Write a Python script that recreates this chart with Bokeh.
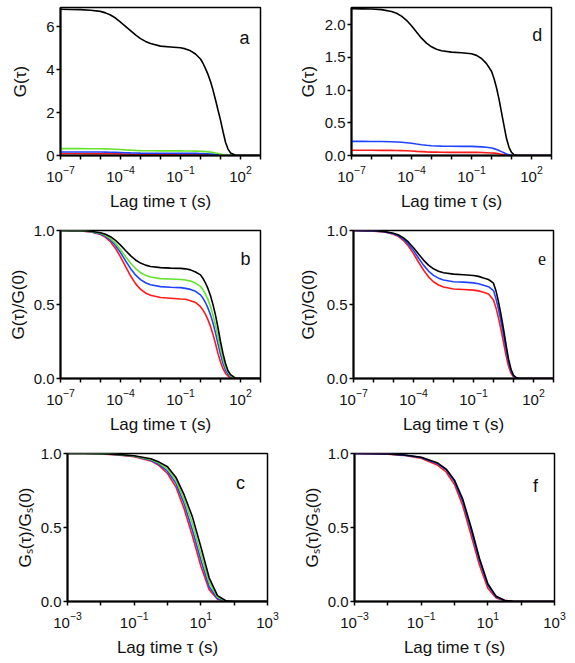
from bokeh.plotting import figure
from bokeh.layouts import column, row
from bokeh.models import FixedTicker, LogTickFormatter, NumeralTickFormatter, Label, Range1d
from bokeh.embed import file_html
from bokeh.resources import INLINE

# ---------------- data ----------------
# lag time grid, as exponents of 10 (s)
LOG_TAU = [-7, -6.5, -6, -5.5, -5, -4.75, -4.5, -4.25, -4, -3.75, -3.5, -3.25, -3, -2.75,
           -2.5, -2, -1.5, -1, -0.75, -0.5, -0.25, 0, 0.125, 0.25, 0.375, 0.5, 0.625,
           0.75, 0.875, 1, 1.125, 1.25, 1.375, 1.5, 1.75, 2, 2.5, 3]

a_black = [6.82, 6.81, 6.80, 6.77, 6.72, 6.65, 6.55, 6.41, 6.22, 6.02, 5.82, 5.62, 5.45, 5.32,
           5.22, 5.10, 5.06, 5.02, 4.97, 4.88, 4.73, 4.50, 4.30, 4.05, 3.78, 3.45, 3.05,
           2.60, 2.12, 1.65, 1.12, 0.62, 0.30, 0.12, 0.01, 0, 0, 0]
a_green = [0.320, 0.320, 0.319, 0.318, 0.314, 0.309, 0.302, 0.292, 0.279, 0.264, 0.250, 0.238, 0.229, 0.223,
           0.220, 0.216, 0.215, 0.214, 0.213, 0.211, 0.206, 0.199, 0.192, 0.182, 0.171, 0.156, 0.137,
           0.115, 0.090, 0.064, 0.042, 0.025, 0.014, 0.006, 0.001, 0, 0, 0]
a_blue = [0.165, 0.165, 0.165, 0.164, 0.161, 0.159, 0.154, 0.148, 0.140, 0.131, 0.123, 0.116, 0.110, 0.107,
          0.104, 0.102, 0.102, 0.101, 0.100, 0.099, 0.097, 0.093, 0.089, 0.084, 0.078, 0.071, 0.062,
          0.051, 0.039, 0.027, 0.017, 0.009, 0.005, 0.002, 0, 0, 0, 0]
a_red = [0.090, 0.090, 0.090, 0.089, 0.088, 0.086, 0.083, 0.079, 0.074, 0.068, 0.062, 0.058, 0.054, 0.052,
         0.051, 0.049, 0.049, 0.048, 0.048, 0.047, 0.046, 0.044, 0.042, 0.039, 0.036, 0.032, 0.027,
         0.021, 0.015, 0.010, 0.006, 0.003, 0.002, 0.001, 0, 0, 0, 0]

b_black = [1.000, 0.999, 0.998, 0.995, 0.985, 0.974, 0.958, 0.933, 0.901, 0.865, 0.830, 0.801, 0.780, 0.766,
           0.757, 0.749, 0.746, 0.744, 0.741, 0.734, 0.720, 0.700, 0.676, 0.645, 0.607, 0.559, 0.499,
           0.428, 0.343, 0.250, 0.168, 0.101, 0.052, 0.026, 0.003, 0, 0, 0]
b_green = [1.000, 0.999, 0.998, 0.993, 0.981, 0.967, 0.945, 0.914, 0.872, 0.825, 0.780, 0.743, 0.715, 0.697,
           0.686, 0.675, 0.672, 0.669, 0.665, 0.658, 0.645, 0.622, 0.599, 0.570, 0.533, 0.486, 0.427,
           0.360, 0.281, 0.201, 0.131, 0.077, 0.044, 0.019, 0.002, 0, 0, 0]
b_blue = [1.000, 0.999, 0.998, 0.992, 0.977, 0.961, 0.936, 0.899, 0.851, 0.796, 0.744, 0.700, 0.668, 0.647,
          0.633, 0.621, 0.617, 0.614, 0.609, 0.602, 0.589, 0.565, 0.542, 0.512, 0.475, 0.430, 0.375,
          0.308, 0.234, 0.163, 0.103, 0.057, 0.030, 0.014, 0.002, 0, 0, 0]
b_red = [1.000, 0.999, 0.997, 0.991, 0.973, 0.954, 0.924, 0.879, 0.822, 0.757, 0.694, 0.641, 0.603, 0.578,
         0.562, 0.547, 0.542, 0.537, 0.535, 0.526, 0.514, 0.485, 0.462, 0.433, 0.396, 0.352, 0.298,
         0.235, 0.169, 0.112, 0.066, 0.034, 0.017, 0.007, 0.001, 0, 0, 0]

d_black = [2.240, 2.239, 2.236, 2.227, 2.200, 2.172, 2.128, 2.064, 1.980, 1.885, 1.792, 1.716, 1.660, 1.623,
           1.600, 1.578, 1.568, 1.553, 1.529, 1.482, 1.403, 1.286, 1.176, 1.035, 0.862, 0.659, 0.455,
           0.259, 0.125, 0.047, 0.013, 0.002, 0, 0, 0, 0, 0, 0]
d_blue = [0.215, 0.215, 0.214, 0.213, 0.210, 0.207, 0.202, 0.195, 0.186, 0.175, 0.165, 0.156, 0.150, 0.146,
          0.143, 0.141, 0.140, 0.139, 0.136, 0.132, 0.125, 0.115, 0.105, 0.092, 0.077, 0.059, 0.041,
          0.023, 0.011, 0.004, 0.001, 0, 0, 0, 0, 0, 0, 0]
d_red = [0.080, 0.080, 0.080, 0.079, 0.078, 0.077, 0.075, 0.072, 0.068, 0.063, 0.059, 0.055, 0.052, 0.051,
         0.049, 0.048, 0.048, 0.048, 0.047, 0.045, 0.043, 0.039, 0.036, 0.032, 0.026, 0.020, 0.014,
         0.008, 0.004, 0.001, 0, 0, 0, 0, 0, 0, 0, 0]

e_black = [1.000, 0.999, 0.998, 0.994, 0.982, 0.970, 0.950, 0.921, 0.884, 0.841, 0.800, 0.766, 0.741, 0.725,
           0.714, 0.705, 0.701, 0.696, 0.690, 0.679, 0.669, 0.644, 0.592, 0.518, 0.431, 0.336, 0.231,
           0.133, 0.063, 0.021, 0.007, 0.001, 0, 0, 0, 0, 0, 0]
e_blue = [1.000, 0.998, 0.997, 0.992, 0.978, 0.964, 0.941, 0.907, 0.864, 0.814, 0.766, 0.726, 0.697, 0.678,
          0.666, 0.654, 0.651, 0.646, 0.640, 0.630, 0.620, 0.594, 0.538, 0.468, 0.386, 0.296, 0.200,
          0.113, 0.052, 0.017, 0.005, 0.001, 0, 0, 0, 0, 0, 0]
e_red = [1.000, 0.998, 0.996, 0.991, 0.975, 0.959, 0.932, 0.894, 0.844, 0.787, 0.733, 0.687, 0.654, 0.632,
         0.618, 0.605, 0.601, 0.597, 0.592, 0.583, 0.571, 0.530, 0.477, 0.408, 0.330, 0.244, 0.156,
         0.083, 0.036, 0.012, 0.004, 0.001, 0, 0, 0, 0, 0, 0]

LOG_TAU_S = [-3, -2.5, -2, -1.5, -1, -0.5, -0.25, 0, 0.25, 0.5, 0.75, 1, 1.25, 1.5, 1.75, 2, 2.5, 3]

c_black = [1.0, 1.0, 0.998, 0.994, 0.985, 0.965, 0.942, 0.910, 0.840, 0.720, 0.570, 0.370, 0.160, 0.040, 0.005, 0, 0, 0]
c_green = [1.0, 1.0, 0.998, 0.993, 0.983, 0.960, 0.935, 0.895, 0.820, 0.690, 0.525, 0.320, 0.130, 0.030, 0.003, 0, 0, 0]
c_blue = [1.0, 1.0, 0.998, 0.992, 0.981, 0.955, 0.927, 0.880, 0.800, 0.660, 0.480, 0.280, 0.100, 0.020, 0.002, 0, 0, 0]
c_red = [1.0, 1.0, 0.997, 0.991, 0.978, 0.950, 0.918, 0.865, 0.775, 0.625, 0.440, 0.240, 0.080, 0.015, 0.001, 0, 0, 0]

f_black = [1.0, 0.999, 0.997, 0.990, 0.975, 0.935, 0.895, 0.820, 0.690, 0.500, 0.290, 0.120, 0.035, 0.008, 0.001, 0, 0, 0]
f_blue = [1.0, 0.999, 0.997, 0.989, 0.973, 0.930, 0.890, 0.810, 0.675, 0.480, 0.275, 0.110, 0.030, 0.007, 0.001, 0, 0, 0]
f_red = [1.0, 0.999, 0.996, 0.987, 0.968, 0.920, 0.875, 0.790, 0.645, 0.445, 0.245, 0.090, 0.024, 0.005, 0.001, 0, 0, 0]

# tick definitions (exponents of 10)
X_LABELED_FCS = [-7, -4, -1, 2]
X_UNLABELED_FCS = [-6, -5, -3, -2, 0, 1, 3]
X_LABELED_S = [-3, -1, 1, 3]
X_UNLABELED_S = [-2, 0, 2]
Y_TICKS_A = [0, 2, 4, 6]
Y_TICKS_D = [0, 0.5, 1.0, 1.5, 2.0]
Y_TICKS_N = [0, 0.5, 1.0]

X_TITLE = "Lag time \u03c4 (s)"

BLACK = "#000000"
GREEN = "#66e22c"
BLUE = "#1f44ff"
RED = "#ff1a1a"

FONT = "Liberation Sans"
TXT = "#111111"


def make_fig(width, height, left, right, top, bottom, xr, yr, yticks, yfmt,
             xlab, xunlab, ytitle, ystandoff):
    p = figure(width=width, height=height, x_axis_type="log",
               x_range=Range1d(*xr), y_range=Range1d(*yr),
               output_backend="svg", toolbar_location=None,
               min_border_left=left, min_border_right=right,
               min_border_top=top, min_border_bottom=bottom)
    p.grid.visible = False
    p.outline_line_color = "black"
    p.outline_line_width = 1.5
    p.outline_line_alpha = 1.0
    p.background_fill_color = "white"
    p.border_fill_color = "white"

    xa = p.xaxis[0]
    xa.ticker = FixedTicker(ticks=[10.0 ** e for e in xlab],
                            minor_ticks=[10.0 ** e for e in xunlab])
    xa.formatter = LogTickFormatter()
    xa.axis_label = X_TITLE
    xa.major_tick_out = 4
    xa.major_tick_in = 0
    xa.minor_tick_out = 4
    xa.minor_tick_in = 0
    xa.major_label_standoff = 6
    xa.axis_label_standoff = 7

    ya = p.yaxis[0]
    ya.ticker = FixedTicker(ticks=yticks)
    ya.formatter = NumeralTickFormatter(format=yfmt)
    ya.axis_label = ytitle
    ya.major_tick_out = 4
    ya.major_tick_in = 0
    ya.minor_tick_out = 0
    ya.minor_tick_in = 0
    ya.major_label_standoff = 2
    ya.axis_label_standoff = ystandoff

    for ax in (xa, ya):
        ax.axis_line_width = 2
        ax.axis_line_color = "black"
        ax.major_tick_line_width = 1.5
        ax.major_tick_line_color = "black"
        ax.minor_tick_line_color = "black"
        ax.minor_tick_line_width = 1.5
        ax.major_label_text_font = FONT
        ax.major_label_text_font_size = "15px"
        ax.major_label_text_color = TXT
        ax.axis_label_text_font = FONT
        ax.axis_label_text_font_size = "17px"
        ax.axis_label_text_font_style = "normal"
        ax.axis_label_text_color = TXT
    return p


def add_lines(p, logx, series):
    xs = [10.0 ** v for v in logx]
    for ys, col in series:
        p.line(xs, ys, line_color=col, line_width=1.6)


def add_letter(p, txt, lx, y, font=FONT):
    p.add_layout(Label(x=10.0 ** lx, y=y, text=txt, text_font=font,
                       text_font_size="18px", text_color=TXT,
                       text_align="center", text_baseline="middle"))


XR_FCS = (1e-7, 1e3)
XR_S = (1e-3, 1e3)

LW, RW = 290, 280

pa = make_fig(LW, 220, 60, 30, 7, 65, XR_FCS, (0, 6.9), Y_TICKS_A, "0",
              X_LABELED_FCS, X_UNLABELED_FCS, "G(\u03c4)", 13)
add_lines(pa, LOG_TAU, [(a_red, RED), (a_blue, BLUE), (a_green, GREEN), (a_black, BLACK)])
add_letter(pa, "a", 2.2, 5.5)

pd = make_fig(RW, 220, 61, 19, 7, 65, XR_FCS, (0, 2.26), Y_TICKS_D, "0.0",
              X_LABELED_FCS, X_UNLABELED_FCS, "G(\u03c4)", 4)
add_lines(pd, LOG_TAU, [(d_red, RED), (d_blue, BLUE), (d_black, BLACK)])
add_letter(pd, "d", 2.29, 1.84)

pb = make_fig(LW, 223, 60, 30, 10, 65, XR_FCS, (0, 1.0), Y_TICKS_N, "0.0",
              X_LABELED_FCS, X_UNLABELED_FCS, "G(\u03c4)/G(0)", 3)
add_lines(pb, LOG_TAU, [(b_red, RED), (b_blue, BLUE), (b_green, GREEN), (b_black, BLACK)])
add_letter(pb, "b", 2.25, 0.81)

pe = make_fig(RW, 223, 63, 17, 10, 65, XR_FCS, (0, 1.0), Y_TICKS_N, "0.0",
              X_LABELED_FCS, X_UNLABELED_FCS, "G(\u03c4)/G(0)", 6)
add_lines(pe, LOG_TAU, [(e_red, RED), (e_blue, BLUE), (e_black, BLACK)])
add_letter(pe, "e", 2.43, 0.81, font="Liberation Serif")

pc = make_fig(LW, 216, 67, 23, 10, 58, XR_S, (0, 1.0), Y_TICKS_N, "0.0",
              X_LABELED_S, X_UNLABELED_S, "G\u209b(\u03c4)/G\u209b(0)", 3)
add_lines(pc, LOG_TAU_S, [(c_red, RED), (c_blue, BLUE), (c_green, GREEN), (c_black, BLACK)])
add_letter(pc, "c", 2.19, 0.80)

pf = make_fig(RW, 216, 64, 16, 10, 58, XR_S, (0, 1.0), Y_TICKS_N, "0.0",
              X_LABELED_S, X_UNLABELED_S, "G\u209b(\u03c4)/G\u209b(0)", 3)
add_lines(pf, LOG_TAU_S, [(f_red, RED), (f_blue, BLUE), (f_black, BLACK)])
add_letter(pf, "f", 2.43, 0.78)

layout = column(row(pa, pd), row(pb, pe), row(pc, pf))

with open("out.html", "w") as fh:
    fh.write(file_html(layout, INLINE))
